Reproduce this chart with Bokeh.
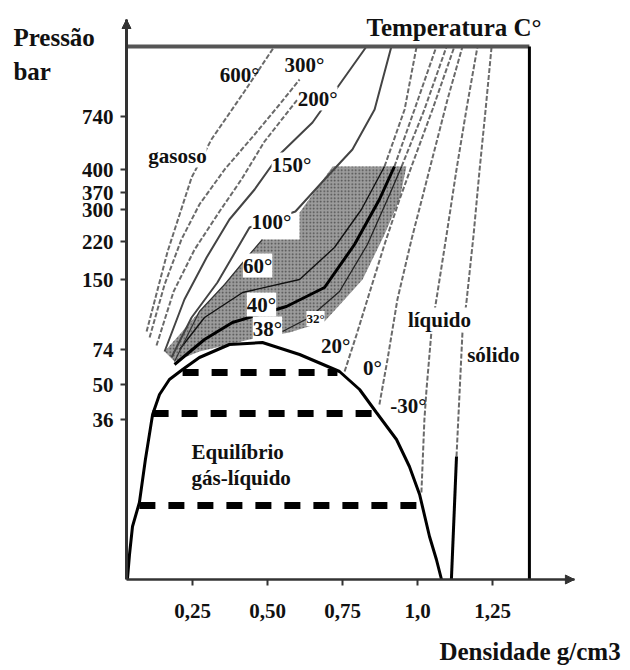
from bokeh.plotting import figure
from bokeh.models import Range1d, FixedTicker, Label, Arrow, NormalHead
from bokeh.embed import file_html
from bokeh.resources import INLINE

FONT = "Liberation Serif"

# ---- axis ticks (y is a hand-drawn, non-linear pressure scale: tick label -> scale height)
y_tick_labels = ["36", "50", "74", "150", "220", "300", "370", "400", "740"]
y_tick_pos = [160, 195, 230, 300, 338, 370, 387, 410, 463]
x_tick_vals = [0.25, 0.50, 0.75, 1.00, 1.25]
x_tick_labels = ["0,25", "0,50", "0,75", "1,0", "1,25"]

# ---- liquid-gas coexistence dome (density g/cm3, scale height)
dome_d = [0.033, 0.040, 0.050, 0.073, 0.093, 0.117, 0.140, 0.173, 0.217, 0.273, 0.373,
          0.483, 0.607, 0.740, 0.807, 0.863, 0.930, 0.973, 1.007, 1.040, 1.063, 1.080]
dome_s = [0, 25, 53, 77, 120, 165, 185, 200, 210, 222, 235,
          237, 225, 208, 190, 167, 140, 113, 85, 43, 20, 0]

# ---- tie lines (dashed) : level, left density, right density
tie_s = [207, 166, 74]
tie_left = [0.217, 0.117, 0.073]
tie_right = [0.733, 0.863, 1.013]

# ---- supercritical shaded band
shade_d = [0.157, 0.207, 0.273, 0.357, 0.440, 0.483, 0.607, 0.607, 0.717, 0.963,
           0.940, 0.890, 0.817, 0.757, 0.690, 0.573, 0.440, 0.273, 0.190]
shade_s = [228, 245, 268, 295, 325, 340, 340, 367, 413, 413,
           380, 345, 300, 280, 258, 247, 240, 228, 218]
shade_edge_d = [0.190, 0.273, 0.357, 0.440, 0.483]
shade_edge_s = [218, 268, 295, 325, 340]

# ---- isotherms
t600_d = [0.097, 0.167, 0.247, 0.313, 0.423, 0.523]
t600_s = [248, 328, 402, 440, 488, 533]
t300_d = [0.107, 0.157, 0.213, 0.273, 0.357, 0.457, 0.540, 0.607]
t300_s = [242, 295, 340, 375, 410, 445, 475, 500]
t200_d = [0.130, 0.187, 0.257, 0.340, 0.413, 0.490, 0.600]
t200_s = [234, 288, 330, 368, 400, 438, 480]
t150_d = [0.157, 0.223, 0.297, 0.373, 0.457, 0.540, 0.650, 0.740, 0.830]
t150_s = [228, 280, 322, 360, 390, 425, 457, 495, 533]
t100_d = [0.180, 0.247, 0.333, 0.440, 0.593, 0.690, 0.783, 0.857, 0.913]
t100_s = [222, 262, 297, 352, 368, 400, 430, 470, 533]
t60_d = [0.207, 0.290, 0.417, 0.607, 0.723, 0.813, 0.890, 0.957, 0.997]
t60_s = [230, 262, 287, 300, 332, 370, 413, 470, 533]
t40_d = [0.190, 0.290, 0.383, 0.563, 0.690, 0.790, 0.873, 0.923, 0.990, 1.063]
t40_s = [215, 240, 257, 273, 292, 335, 380, 413, 470, 533]
t32_d = [0.550, 0.640, 0.740, 0.833, 0.907, 0.947, 1.023, 1.097]
t32_s = [248, 262, 288, 335, 385, 413, 470, 533]
t20_d = [0.757, 0.797, 0.833, 0.890, 0.940, 0.980, 1.050, 1.123]
t20_s = [208, 245, 280, 335, 380, 413, 470, 533]
t0_d = [0.873, 0.900, 0.933, 0.980, 1.040, 1.100, 1.150]
t0_s = [175, 220, 280, 340, 410, 480, 533]
tm30_d = [1.013, 1.023, 1.030, 1.047, 1.063, 1.097, 1.130, 1.163, 1.200]
tm30_s = [87, 160, 190, 250, 280, 345, 410, 470, 533]

# ---- solid-liquid boundary
solid_low_d = [1.113, 1.130]
solid_low_s = [0, 123]
solid_up_d = [1.130, 1.150, 1.163, 1.187, 1.207, 1.227, 1.247]
solid_up_s = [123, 248, 277, 345, 410, 470, 533]

# ---- frame of the diagram
box_left, box_right, box_top = 0.03, 1.373, 533
axis_x_end, axis_y_end = 1.523, 560

# ---- text labels: (text, density, height, boxed)
temp_labels = [("600°", 0.407, 505, False), ("300°", 0.623, 515, False),
               ("200°", 0.667, 481, True), ("150°", 0.580, 415, True),
               ("100°", 0.513, 358, True), ("60°", 0.467, 314, True),
               ("40°", 0.480, 275, True), ("38°", 0.500, 251, True),
               ("20°", 0.727, 234, False), ("0°", 0.850, 212, False),
               ("-30°", 0.970, 174, False)]
region_labels = [("gasoso", 0.200, 424), ("líquido", 1.073, 260), ("sólido", 1.253, 225)]

p = figure(width=628, height=666,
           x_range=Range1d(-0.39, 1.7033), y_range=Range1d(-87, 579),
           output_backend="svg", toolbar_location=None,
           min_border=0, min_border_left=0, min_border_right=0,
           min_border_top=0, min_border_bottom=0)
p.xgrid.visible = False
p.ygrid.visible = False
p.outline_line_color = None
p.background_fill_color = "white"
p.border_fill_color = "white"

# shaded band
p.patch(shade_d, shade_s, fill_color="#9c9c9c", line_color=None,
        hatch_pattern="dot", hatch_color="#333333", hatch_scale=3.5, hatch_weight=1.3, hatch_alpha=0.8)

gray = dict(line_color="#6a6a6a", line_width=2, line_dash="5 2")
for xs, ys in [(t600_d, t600_s), (t300_d, t300_s), (t200_d, t200_s), (t0_d, t0_s),
               (tm30_d, tm30_s), (solid_up_d, solid_up_s), (t20_d, t20_s)]:
    p.line(xs, ys, **gray)
p.line(t32_d[5:], t32_s[5:], **gray)
p.line(t32_d[:6], t32_s[:6], line_color="#222222", line_width=1.3)
p.line(t40_d[7:], t40_s[7:], **gray)
p.line(t40_d[:8], t40_s[:8], line_color="#000000", line_width=3)
p.line(t60_d[6:], t60_s[6:], **gray)
p.line(t60_d[:7], t60_s[:7], line_color="#111111", line_width=1.4)
p.line(t150_d, t150_s, line_color="#444444", line_width=2)
p.line(t100_d, t100_s, line_color="#444444", line_width=2)
p.line(shade_edge_d, shade_edge_s, line_color="#333333", line_width=1.2)

# dome and tie lines
p.line(dome_d, dome_s, line_color="black", line_width=3)
for s, a, b in zip(tie_s, tie_left, tie_right):
    p.line([a, b], [s, s], line_color="black", line_width=7, line_dash="16 13")

# solid boundary lower part
p.line(solid_low_d, solid_low_s, line_color="black", line_width=3)

# frame lines
p.line([box_left, box_right], [box_top, box_top], line_color="#555555", line_width=4)
p.line([box_right, box_right], [0, box_top], line_color="black", line_width=3)

# axes, placed inside the (full-canvas) frame
p.yaxis.fixed_location = box_left
p.xaxis.fixed_location = 0
p.yaxis.bounds = (0, axis_y_end)
p.xaxis.bounds = (box_left, axis_x_end)
p.yaxis.ticker = FixedTicker(ticks=y_tick_pos)
p.yaxis.major_label_overrides = {v: t for v, t in zip(y_tick_pos, y_tick_labels)}
p.xaxis.ticker = FixedTicker(ticks=x_tick_vals)
p.xaxis.major_label_overrides = {v: t for v, t in zip(x_tick_vals, x_tick_labels)}
for ax in (p.xaxis, p.yaxis):
    ax.major_label_text_font = FONT
    ax.major_label_text_font_style = "bold"
    ax.major_label_text_font_size = "21px"
    ax.major_label_text_color = "#111111"
    ax.minor_tick_line_color = None
    ax.major_tick_in = 0
    ax.major_tick_out = 6
    ax.major_tick_line_width = 2
    ax.major_tick_line_color = "#333333"
p.yaxis.axis_line_width = 3
p.yaxis.axis_line_color = "#333333"
p.yaxis.major_label_standoff = 7
p.xaxis.axis_line_width = 2.5
p.xaxis.axis_line_color = "#333333"
p.xaxis.major_label_standoff = 18

p.add_layout(Arrow(end=NormalHead(size=9, fill_color="#333333", line_color="#333333"),
                   x_start=box_left, y_start=axis_y_end - 20, x_end=box_left, y_end=axis_y_end,
                   line_width=0, line_alpha=0))
p.add_layout(Arrow(end=NormalHead(size=9, fill_color="#333333", line_color="#333333"),
                   x_start=axis_x_end - 0.05, y_start=0, x_end=axis_x_end, y_end=0,
                   line_width=0, line_alpha=0))

def lab(text, x, y, size="21px", align="center", boxed=False):
    kw = dict(x=x, y=y, text=text, text_font=FONT, text_font_style="bold",
              text_font_size=size, text_align=align, text_baseline="middle", text_color="#111111")
    if boxed:
        kw.update(background_fill_color="white")
    p.add_layout(Label(**kw))

for t, x, y, boxed in temp_labels:
    lab(t, x, y, boxed=boxed)
lab("32°", 0.660, 261, size="13px", boxed=True)
for t, x, y in region_labels:
    lab(t, x, y, boxed=True)
lab("Equilíbrio", 0.247, 128, align="left")
lab("gás-líquido", 0.247, 102, align="left")
lab("Pressão", -0.347, 542, size="25px", align="left")
lab("bar", -0.347, 508, size="25px", align="left")
lab("Temperatura C°", 0.830, 552, size="25px", align="left")
lab("Densidade g/cm3", 1.073, -72, size="25px", align="left")

open("out.html", "w").write(file_html(p, INLINE))
